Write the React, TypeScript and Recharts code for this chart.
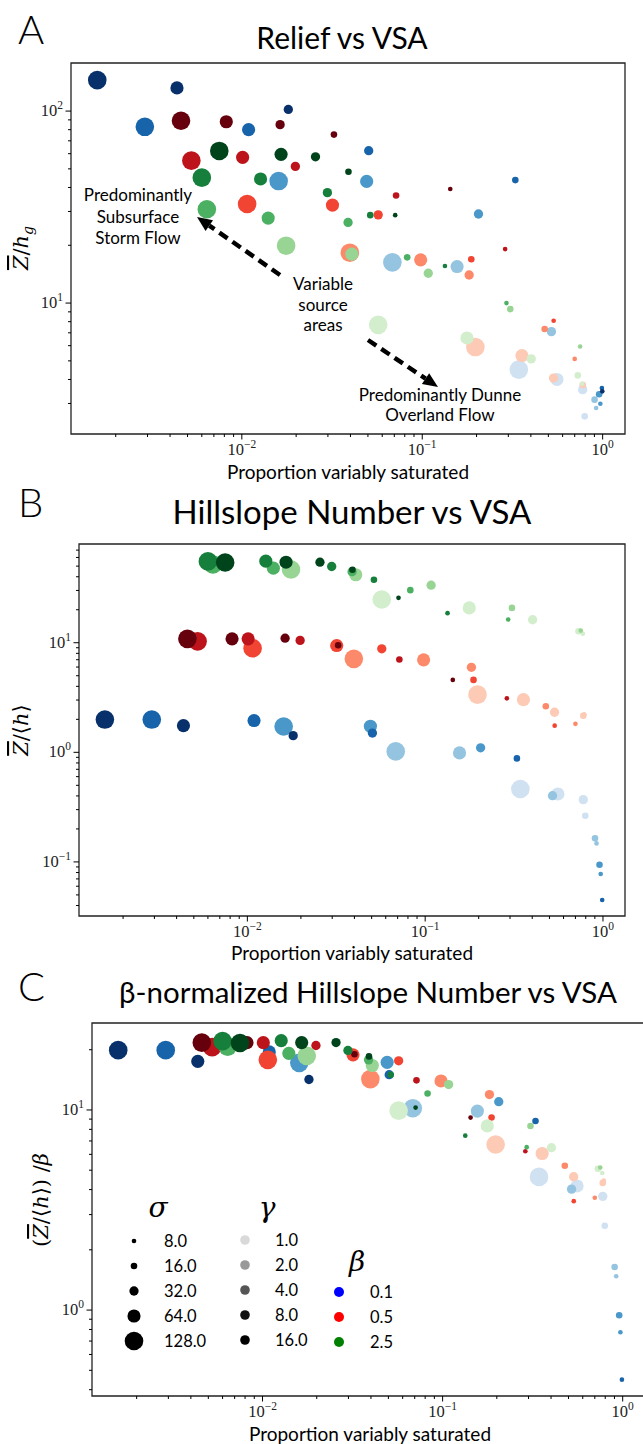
import React from 'react';
import { ScatterChart, Scatter, XAxis, YAxis, ReferenceArea } from 'recharts';

// ---------- parameter levels ----------
const BETA_LEVELS = [0.1, 0.5, 2.5];
const GAMMA_LEVELS = [1, 2, 4, 8, 16];
const SIGMA_LEVELS = [8, 16, 32, 64, 128];

// ---------- per-run data (order: beta, gamma ascending, sigma descending) ----------
const pointBeta = [
  0.1, 0.1, 0.1, 0.1,
  0.1, 0.1, 0.1, 0.1, 0.1,
  0.1, 0.1, 0.1, 0.1, 0.1,
  0.1, 0.1, 0.1, 0.1, 0.1,
  0.1, 0.1, 0.1, 0.1,
  0.5, 0.5, 0.5, 0.5, 0.5,
  0.5, 0.5, 0.5, 0.5, 0.5,
  0.5, 0.5, 0.5, 0.5, 0.5,
  0.5, 0.5, 0.5, 0.5, 0.5,
  0.5, 0.5, 0.5, 0.5, 0.5,
  2.5, 2.5, 2.5, 2.5, 2.5,
  2.5, 2.5, 2.5, 2.5, 2.5,
  2.5, 2.5, 2.5, 2.5, 2.5,
  2.5, 2.5, 2.5, 2.5, 2.5,
  2.5, 2.5, 2.5, 2.5, 2.5,
];
const pointGamma = [
  1, 1, 1, 1,
  2, 2, 2, 2, 2,
  4, 4, 4, 4, 4,
  8, 8, 8, 8, 8,
  16, 16, 16, 16,
  1, 1, 1, 1, 1,
  2, 2, 2, 2, 2,
  4, 4, 4, 4, 4,
  8, 8, 8, 8, 8,
  16, 16, 16, 16, 16,
  1, 1, 1, 1, 1,
  2, 2, 2, 2, 2,
  4, 4, 4, 4, 4,
  8, 8, 8, 8, 8,
  16, 16, 16, 16, 16,
];
const pointSigma = [
  128, 64, 32, 16,
  128, 64, 32, 16, 8,
  128, 64, 32, 16, 8,
  128, 64, 32, 16, 8,
  128, 64, 32, 8,
  128, 64, 32, 16, 8,
  128, 64, 32, 16, 8,
  128, 64, 32, 16, 8,
  128, 64, 32, 16, 8,
  128, 64, 32, 16, 8,
  128, 64, 32, 16, 8,
  128, 64, 32, 16, 8,
  128, 64, 32, 16, 8,
  128, 64, 32, 16, 8,
  128, 64, 32, 16, 8,
];
// proportion variably saturated
const vsa = [
  0.343, 0.558, 0.775, 0.795,
  0.0683, 0.156, 0.52, 0.902, 0.92,
  0.016, 0.0492, 0.205, 0.956, 0.971,
  0.0029, 0.0109, 0.0505, 0.328, 0.99,
  0.00158, 0.00437, 0.0181, 0.995,
  0.197, 0.357, 0.534, 0.775, 0.785,
  0.0397, 0.098, 0.182, 0.477, 0.70,
  0.0107, 0.0318, 0.057, 0.187, 0.535,
  0.00525, 0.0101, 0.0198, 0.0716, 0.288,
  0.0046, 0.0082, 0.0163, 0.0324, 0.143,
  0.057, 0.177, 0.402, 0.728, 0.77,
  0.0176, 0.0407, 0.108, 0.3075, 0.75,
  0.0064, 0.014, 0.0388, 0.0825, 0.293,
  0.006, 0.0127, 0.0298, 0.0515, 0.1336,
  0.0075, 0.0165, 0.0256, 0.039, 0.0708,
];
// panel A: relief  Z/h_g
const reliefA = [
  4.5, 4.0, 3.54, 2.57,
  16.3, 15.5, 7.1, 3.14, 2.84,
  43.2, 43, 29.1, 3.35, 2.99,
  82.8, 80, 62.2, 43.7, 3.61,
  145, 132, 102, 3.47,
  5.9, 5.33, 4.07, 3.75, 3.7,
  18.3, 16.8, 14.0, 7.33, 5.12,
  32.8, 32.4, 28.8, 16.9, 8.09,
  55.2, 57.4, 51.5, 36.3, 19.1,
  89, 88, 85, 75.4, 39.3,
  7.7, 6.58, 5.12, 4.2, 3.8,
  19.9, 18.0, 14.3, 9.3, 5.94,
  30.8, 27.7, 26.3, 17.3, 10,
  45, 44.3, 37.6, 28.7, 15.6,
  62, 59.5, 57.8, 48.3, 28.7,
];
// panel B: hillslope number  Z/<h>
const hillB: (number | null)[] = [
  0.463, 0.417, 0.370, 0.264,
  1.02, 0.987, 0.402, 0.164, 0.1476,
  1.72, 1.73, 1.10, 0.0943, 0.0775,
  1.99, 1.95, 1.50, 0.88, 0.0449,
  1.99, 1.75, 1.42, null,
  3.36, 3.03, 2.32, 2.16, 2.22,
  7.13, 6.98, 5.97, 2.63, 1.82,
  8.9, 9.43, 8.8, 4.58, 1.75,
  10.3, 10.85, 10.5, 7.03, 3.11,
  10.85, 10.85, 11.0, 9.5, 4.58,
  24.8, 20.8, 16.2, 12.7, 12.1,
  46.6, 41.7, 33.5, 20.8, 12.9,
  51.8, 47.9, 44.5, 30.2, 16.3,
  55.2, 55.5, 49.6, 37.5, 18.6,
  54, 54.3, 54.3, 46.3, 25.7,
];
// panel C: beta-normalized hillslope number  (Z/<h>)/beta
const hillC: (number | null)[] = [
  4.63, 4.17, 3.70, 2.64,
  10.2, 9.87, 4.02, 1.64, 1.476,
  17.2, 17.3, 11.0, 0.943, 0.775,
  19.9, 19.5, 15.0, 8.8, 0.449,
  19.9, 17.5, 14.2, null,
  6.72, 6.06, 4.64, 4.32, 4.44,
  14.26, 13.96, 11.94, 5.26, 3.64,
  17.8, 18.86, 17.6, 9.16, 3.5,
  20.6, 21.7, 21.0, 14.06, 6.22,
  21.7, 21.7, 22.0, 19.0, 9.16,
  9.92, 8.32, 6.48, 5.08, 4.84,
  18.64, 16.68, 13.4, 8.32, 5.16,
  20.72, 19.16, 17.8, 12.08, 6.52,
  22.08, 22.2, 19.84, 15.0, 7.44,
  21.6, 21.72, 21.72, 18.52, 10.28,
];

// ---------- axes ----------
const X_DOMAIN: [number, number] = [0.00113, 1.33];
const Y_DOMAIN_A: [number, number] = [2.08, 178];
const Y_DOMAIN_B: [number, number] = [0.0321, 79.6];
const Y_DOMAIN_C: [number, number] = [0.372, 27.2];
const X_MAJOR = [0.001, 0.01, 0.1, 1];
const Y_MAJOR_A = [1, 10, 100];
const Y_MAJOR_B = [0.01, 0.1, 1, 10];
const Y_MAJOR_C = [0.1, 1, 10];

// ---------- styles ----------
const COLORS: Record<number, string[]> = {
  0.1: ['#d0e1f2', '#94c4df', '#4a98c9', '#1764ab', '#08306b'],
  0.5: ['#fdcab5', '#fc8a6a', '#f14432', '#bc141a', '#67000d'],
  2.5: ['#d3eecd', '#98d594', '#4bb062', '#157f3b', '#00441b'],
};
const GREYS = ['#d9d9d9', '#999999', '#555555', '#111111', '#000000'];
const BETA_LEGEND_COLORS = ['#0000ff', '#ff0000', '#008000'];
const SANS = 'Lato, "Open Sans", sans-serif';
const SERIF = '"Liberation Serif", "DejaVu Serif", serif';
const MATH = '"DejaVu Serif", "Liberation Serif", serif';

const radius = (s: number) => 0.822 * Math.sqrt(s);

function withMinor(majors: number[], domain: [number, number]) {
  const out: number[] = [];
  majors.forEach((m) => {
    for (let k = 1; k <= 9; k++) {
      const v = m * k;
      if (v >= domain[0] && v <= domain[1]) out.push(+v.toPrecision(6));
    }
  });
  return out;
}

const isMajor = (v: number) => {
  const l = Math.log10(v);
  return Math.abs(l - Math.round(l)) < 1e-6;
};
const expLabel = (v: number) => {
  const e = Math.round(Math.log10(v));
  return e < 0 ? '\u2212' + Math.abs(e) : String(e);
};

const XTick = (props: any) => {
  const { x, y, payload } = props;
  const v = payload.value;
  const major = isMajor(v);
  return (
    <g>
      <line x1={x} x2={x} y1={y} y2={y + (major ? 5.5 : 3)} stroke="#000" strokeWidth={1} />
      {major && (
        <text x={x} y={y + 21} textAnchor="middle" fontFamily={SERIF} fontSize={16.5} fill="#222">
          <tspan>10</tspan>
          <tspan dy={-7} fontSize={11.5}>{expLabel(v)}</tspan>
        </text>
      )}
    </g>
  );
};

const YTick = (props: any) => {
  const { x, y, payload } = props;
  const v = payload.value;
  const major = isMajor(v);
  return (
    <g>
      <line x1={x - (major ? 5.5 : 3)} x2={x} y1={y} y2={y} stroke="#000" strokeWidth={1} />
      {major && (
        <text x={x - 8} y={y + 5} textAnchor="end" fontFamily={SERIF} fontSize={16.5} fill="#222">
          <tspan>10</tspan>
          <tspan dy={-7} fontSize={11.5}>{expLabel(v)}</tspan>
        </text>
      )}
    </g>
  );
};

const Dot = (props: any) => {
  const { cx, cy, payload } = props;
  if (cx == null || cy == null) return null;
  const gi = GAMMA_LEVELS.indexOf(payload.gamma);
  return <circle cx={cx} cy={cy} r={radius(payload.sigma)} fill={COLORS[payload.beta][gi]} />;
};

function buildData(ys: (number | null)[]) {
  return vsa
    .map((x, i) => ({ x, y: ys[i], beta: pointBeta[i], gamma: pointGamma[i], sigma: pointSigma[i] }))
    .filter((d) => d.y != null);
}

const dataA = buildData(reliefA);
const dataB = buildData(hillB);
const dataC = buildData(hillC);

type PanelProps = {
  data: any[];
  yDomain: [number, number];
  yMajor: number[];
  width: number;
  height: number;
  margin: { top: number; right: number; bottom: number; left: number };
  yAxisWidth: number;
  xAxisHeight: number;
};

const Panel = ({ data, yDomain, yMajor, width, height, margin, yAxisWidth, xAxisHeight }: PanelProps) => (
  <ScatterChart width={width} height={height} margin={margin}>
    <XAxis
      type="number"
      dataKey="x"
      scale="log"
      domain={X_DOMAIN}
      allowDataOverflow
      ticks={withMinor(X_MAJOR, X_DOMAIN)}
      interval={0}
      tickSize={0}
      tickMargin={0}
      axisLine={false}
      tickLine={false}
      tick={(p: any) => <XTick {...p} />}
      height={xAxisHeight}
    />
    <YAxis
      type="number"
      dataKey="y"
      scale="log"
      domain={yDomain}
      allowDataOverflow
      ticks={withMinor(yMajor, yDomain)}
      interval={0}
      tickSize={0}
      tickMargin={0}
      axisLine={false}
      tickLine={false}
      tick={(p: any) => <YTick {...p} />}
      width={yAxisWidth}
    />
    <Scatter data={data} shape={(p: any) => <Dot {...p} />} isAnimationActive={false} />
    <ReferenceArea
      x1={X_DOMAIN[0]}
      x2={X_DOMAIN[1]}
      y1={yDomain[0]}
      y2={yDomain[1]}
      fill="none"
      fillOpacity={0}
      stroke="#222"
      strokeWidth={1.3}
      ifOverflow="visible"
    />
  </ScatterChart>
);

const Arrow = ({ x1, y1, x2, y2 }: { x1: number; y1: number; x2: number; y2: number }) => {
  const dx = x2 - x1;
  const dy = y2 - y1;
  const len = Math.sqrt(dx * dx + dy * dy);
  const ux = dx / len;
  const uy = dy / len;
  const hl = 15;
  const hw = 6.5;
  const bx = x2 - ux * hl;
  const by = y2 - uy * hl;
  return (
    <g>
      <line x1={x1} y1={y1} x2={bx} y2={by} stroke="#000" strokeWidth={4.5} strokeDasharray="10 6" />
      <polygon
        points={`${x2},${y2} ${bx - uy * hw},${by + ux * hw} ${bx + uy * hw},${by - ux * hw}`}
        fill="#000"
      />
    </g>
  );
};

const Overlay = () => (
  <svg width={643} height={1444} style={{ position: 'absolute', left: 0, top: 0, pointerEvents: 'none' }}>
    {/* Panel letters */}
    <text x={18} y={44} fontFamily={SANS} fontSize={40} fontWeight={300} fill="#000">A</text>
    <text x={18} y={517} fontFamily={SANS} fontSize={40} fontWeight={300} fill="#000">B</text>
    <text x={18} y={1001} fontFamily={SANS} fontSize={40} fontWeight={300} fill="#000">C</text>

    {/* Titles */}
    <text x={342} y={49} textAnchor="middle" fontFamily={SANS} fontSize={30} fill="#000">Relief vs VSA</text>
    <text x={352} y={524} textAnchor="middle" fontFamily={SANS} fontSize={33} fill="#000">Hillslope Number vs VSA</text>
    <text x={368} y={1003} textAnchor="middle" fontFamily={SANS} fontSize={29.5} fill="#000">β-normalized Hillslope Number vs VSA</text>

    {/* X labels */}
    <text x={348} y={479} textAnchor="middle" fontFamily={SANS} fontSize={19} fill="#000">Proportion variably saturated</text>
    <text x={352} y={960} textAnchor="middle" fontFamily={SANS} fontSize={19} fill="#000">Proportion variably saturated</text>
    <text x={370} y={1441} textAnchor="middle" fontFamily={SANS} fontSize={19} fill="#000">Proportion variably saturated</text>

    {/* Y labels */}
    <text transform="translate(28,248) rotate(-90)" textAnchor="middle" fontFamily={MATH} fontStyle="italic" fontSize={21} fill="#000">
      <tspan style={{ textDecoration: 'overline' }}>Z</tspan>
      <tspan fontStyle="normal">/</tspan>
      <tspan>h</tspan>
      <tspan dy={5} fontSize={14}>g</tspan>
    </text>
    <text transform="translate(28,730) rotate(-90)" textAnchor="middle" fontFamily={MATH} fontStyle="italic" fontSize={21} fill="#000">
      <tspan style={{ textDecoration: 'overline' }}>Z</tspan>
      <tspan fontStyle="normal">/⟨</tspan>
      <tspan>h</tspan>
      <tspan fontStyle="normal">⟩</tspan>
    </text>
    <text transform="translate(48,1200) rotate(-90)" textAnchor="middle" fontFamily={MATH} fontStyle="italic" fontSize={21} fill="#000">
      <tspan fontStyle="normal">(</tspan>
      <tspan style={{ textDecoration: 'overline' }}>Z</tspan>
      <tspan fontStyle="normal">/⟨</tspan>
      <tspan>h</tspan>
      <tspan fontStyle="normal">⟩) /</tspan>
      <tspan>β</tspan>
    </text>

    {/* Annotations panel A */}
    <g fontFamily={SANS} fontSize={17} fill="#000" textAnchor="middle">
      <text x={138} y={201}>Predominantly</text>
      <text x={138} y={223}>Subsurface</text>
      <text x={138} y={244}>Storm Flow</text>
      <text x={323} y={290}>Variable</text>
      <text x={323} y={311}>source</text>
      <text x={323} y={331}>areas</text>
      <text x={440} y={401}>Predominantly Dunne</text>
      <text x={440} y={421}>Overland Flow</text>
    </g>
    <Arrow x1={280} y1={275} x2={197} y2={217} />
    <Arrow x1={368} y1={340} x2={438} y2={387} />

    {/* Legends panel C */}
    <text x={158} y={1217} textAnchor="middle" fontFamily={MATH} fontStyle="italic" fontSize={28} fill="#000">σ</text>
    {SIGMA_LEVELS.map((s, i) => (
      <g key={'s' + s}>
        <circle cx={134} cy={1241 + i * 25} r={radius(s)} fill="#000" />
        <text x={164} y={1247 + i * 25} fontFamily={SANS} fontSize={16.5} fill="#000">{s.toFixed(1)}</text>
      </g>
    ))}
    <text x={267} y={1217} textAnchor="middle" fontFamily={MATH} fontStyle="italic" fontSize={28} fill="#000">γ</text>
    {GAMMA_LEVELS.map((g, i) => (
      <g key={'g' + g}>
        <circle cx={245} cy={1240 + i * 25} r={4.8} fill={GREYS[i]} />
        <text x={275} y={1246 + i * 25} fontFamily={SANS} fontSize={16.5} fill="#000">{g.toFixed(1)}</text>
      </g>
    ))}
    <text x={357} y={1271} textAnchor="middle" fontFamily={MATH} fontStyle="italic" fontSize={28} fill="#000">β</text>
    {BETA_LEVELS.map((b, i) => (
      <g key={'b' + b}>
        <circle cx={339} cy={1292 + i * 25} r={5} fill={BETA_LEGEND_COLORS[i]} />
        <text x={370} y={1298 + i * 25} fontFamily={SANS} fontSize={16.5} fill="#000">{b.toFixed(1)}</text>
      </g>
    ))}
  </svg>
);

export default function App() {
  return (
    <div style={{ position: 'absolute', left: 0, top: 0, width: 643, height: 1444, overflow: 'hidden', background: '#fff' }}>
      <div style={{ position: 'absolute', left: 0, top: 0 }}>
        <Panel
          data={dataA}
          yDomain={Y_DOMAIN_A}
          yMajor={Y_MAJOR_A}
          width={643}
          height={480}
          margin={{ top: 63, right: 18, bottom: 0, left: 0 }}
          yAxisWidth={71}
          xAxisHeight={46}
        />
      </div>
      <div style={{ position: 'absolute', left: 0, top: 480 }}>
        <Panel
          data={dataB}
          yDomain={Y_DOMAIN_B}
          yMajor={Y_MAJOR_B}
          width={643}
          height={480}
          margin={{ top: 64, right: 18, bottom: 0, left: 0 }}
          yAxisWidth={79}
          xAxisHeight={44}
        />
      </div>
      <div style={{ position: 'absolute', left: 0, top: 960 }}>
        <Panel
          data={dataC}
          yDomain={Y_DOMAIN_C}
          yMajor={Y_MAJOR_C}
          width={660}
          height={484}
          margin={{ top: 63, right: 15, bottom: 0, left: 0 }}
          yAxisWidth={92}
          xAxisHeight={48}
        />
      </div>
      <Overlay />
    </div>
  );
}
